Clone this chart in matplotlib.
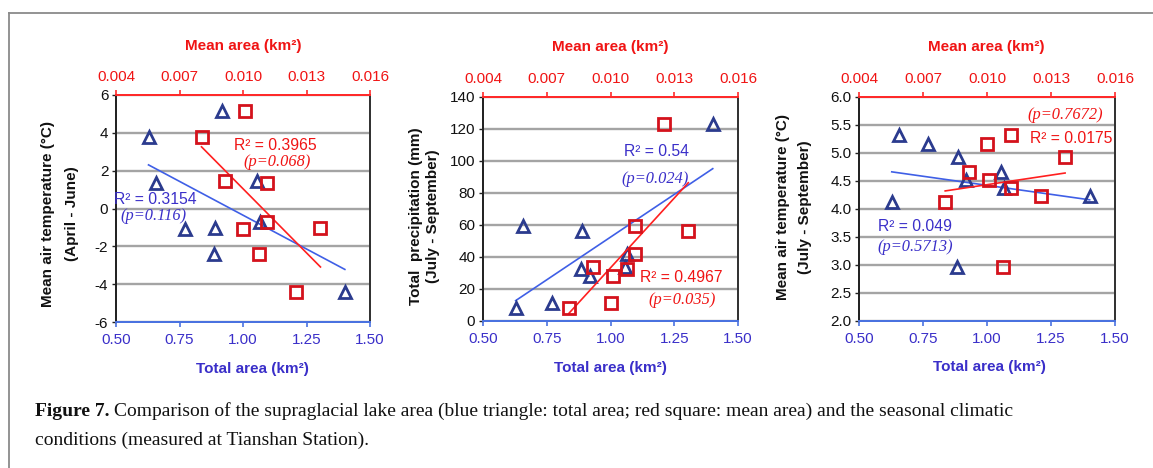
import numpy as np
import matplotlib
matplotlib.use("Agg")
import matplotlib.pyplot as plt
from matplotlib.lines import Line2D

# ---------------- data (9 years) ----------------
total_area = [0.628, 0.658, 0.771, 0.884, 0.888, 0.919, 1.056, 1.066, 1.401]          # km2
mean_area = [0.00804, 0.01114, 0.01001, 0.01077, 0.01366, 0.01010, 0.00917, 0.01113, 0.01251]  # km2
temp_apr_jun = [3.77, 1.37, -1.11, -2.43, -1.04, 5.16, 1.46, -0.72, -4.43]
precip_jul_sep = [7.9, 59.1, 11.1, 32.5, 56.3, 28.3, 33.5, 41.9, 123.4]
temp_jul_sep = [4.12, 5.33, 5.16, 2.96, 4.93, 4.52, 4.66, 4.37, 4.23]

bottom_ticks = [0.50, 0.75, 1.00, 1.25, 1.50]
top_ticks = [0.004, 0.007, 0.010, 0.013, 0.016]

panels = [
    dict(y=temp_apr_jun, ylim=(-6, 6), yticks=[-6, -4, -2, 0, 2, 4, 6], yfmt="{:.0f}",
         ylabel=["Mean air temperature (°C)", "(April - June)"],
         blue_r2="R² = 0.3154", blue_p="(p=0.116)", red_r2="R² = 0.3965", red_p="(p=0.068)"),
    dict(y=precip_jul_sep, ylim=(0, 140), yticks=[0, 20, 40, 60, 80, 100, 120, 140], yfmt="{:.0f}",
         ylabel=["Total  precipitation (mm)", "(July - September)"],
         blue_r2="R² = 0.54", blue_p="(p=0.024)", red_r2="R² = 0.4967", red_p="(p=0.035)"),
    dict(y=temp_jul_sep, ylim=(2.0, 6.0), yticks=[2.0, 2.5, 3.0, 3.5, 4.0, 4.5, 5.0, 5.5, 6.0], yfmt="{:.1f}",
         ylabel=["Mean air temperature (°C)", "(July - September)"],
         blue_r2="R² = 0.049", blue_p="(p=0.5713)", red_r2="R² = 0.0175", red_p="(p=0.7672)"),
]

# ---------------- layout (pixel based) ----------------
W, H = 1153, 468
fig = plt.figure(figsize=(W / 100, H / 100), dpi=100)
plt.rcParams['font.family'] = ['Liberation Sans', 'DejaVu Sans']

def fx(px):
    return px / W

def fy(py):
    return 1 - py / H

axes_px = [(116, 95, 370, 322), (483, 97, 738, 321), (859, 97, 1115, 321)]
ylab_px = [((48, 72), 214), ((416, 433), 216), ((783, 805), 207)]
toplab_px = [(243, 46), (610, 47), (986, 47)]
botlab_px = [(252, 369), (610, 368), (989, 367)]
# annotation positions in (total-area, y) data coords: blue r2, blue p, red r2, red p
ann_pos = [
    [(0.654, 0.48), (0.648, -0.41), (1.126, 3.32), (1.135, 2.44)],
    [(1.181, 106.1), (1.175, 89.0), (1.277, 27.3), (1.280, 13.1)],
    [(0.719, 3.694), (0.719, 3.325), (1.327, 5.257), (1.306, 5.685)],
]

tri_color = '#2b3b8e'
sq_color = '#d4121c'
blue_line = '#3f5fe6'
red_line = '#ff1f1f'
blue_text = '#3a2fc9'
red_text = '#f01414'
grid_color = '#a4a4a4'

for i, p in enumerate(panels):
    l, t, r, b = axes_px[i]
    ax = fig.add_axes([fx(l), fy(b), (r - l) / W, (b - t) / H])
    ax2 = ax.twiny()

    ax.set_xlim(0.5, 1.5)
    ax.set_ylim(*p['ylim'])
    ax2.set_xlim(0.004, 0.016)

    ax.set_xticks(bottom_ticks)
    ax.set_xticklabels([f"{v:.2f}" for v in bottom_ticks])
    ax2.set_xticks(top_ticks)
    ax2.set_xticklabels([f"{v:.3f}" for v in top_ticks])
    ax.set_yticks(p['yticks'])
    ax.set_yticklabels([p['yfmt'].format(v) for v in p['yticks']])

    ax.yaxis.grid(True, color=grid_color, lw=1.7, zorder=0)
    ax.set_axisbelow(True)

    # spines
    for a in (ax, ax2):
        a.spines['left'].set_color('#222222')
        a.spines['right'].set_color('#333333')
        a.spines['left'].set_linewidth(1.3)
        a.spines['right'].set_linewidth(1.3)
        a.spines['top'].set_color('#ff2a2a')
        a.spines['bottom'].set_color('#4a72e0')
        a.spines['top'].set_linewidth(1.4)
        a.spines['bottom'].set_linewidth(1.4)
    ax.tick_params(axis='x', colors='#4a72e0', labelcolor=blue_text, labelsize=11,
                   length=3.5, width=1.2, pad=4.5, direction='out')
    ax2.tick_params(axis='x', colors='#ff2a2a', labelcolor=red_text, labelsize=11,
                    length=3.5, width=1.2, pad=4.5, direction='out')
    ax.tick_params(axis='y', colors='#222222', labelcolor='#111111', labelsize=11,
                   length=3, width=1.0, pad=2.5)

    y = np.array(p['y'])
    xt = np.array(total_area)
    xm = np.array(mean_area)

    # regression lines
    kb = np.polyfit(xt, y, 1)
    xs = np.array([xt.min(), xt.max()])
    ax.plot(xs, np.polyval(kb, xs), color=blue_line, lw=1.2, zorder=2)
    kr = np.polyfit(xm, y, 1)
    xs2 = np.array([xm.min(), xm.max()])
    ax2.plot(xs2, np.polyval(kr, xs2), color=red_line, lw=1.2, zorder=2)

    ax.plot(xt, y, linestyle='none', marker='^', ms=9.3, mfc='none', mec=tri_color, mew=2.0, zorder=3)
    ax2.plot(xm, y, linestyle='none', marker='s', ms=8.8, mfc='none', mec=sq_color, mew=2.0, zorder=3)

    # annotations
    (bx1, by1), (bx2, by2), (rx1, ry1), (rx2, ry2) = ann_pos[i]
    ax2.text(np.interp(bx1, [0.5, 1.5], [0.004, 0.016]), by1, p['blue_r2'], color=blue_text,
             fontsize=11.3, ha='center', va='center', zorder=5)
    ax2.text(np.interp(bx2, [0.5, 1.5], [0.004, 0.016]), by2, p['blue_p'], color=blue_text,
             fontsize=11.8, ha='center', va='center', style='italic', family='Liberation Serif', zorder=5)
    ax2.text(np.interp(rx1, [0.5, 1.5], [0.004, 0.016]), ry1, p['red_r2'], color=red_text,
             fontsize=11.3, ha='center', va='center', zorder=5)
    ax2.text(np.interp(rx2, [0.5, 1.5], [0.004, 0.016]), ry2, p['red_p'], color=red_text,
             fontsize=11.8, ha='center', va='center', style='italic', family='Liberation Serif', zorder=5)

    # axis labels
    (lx1, lx2), ly = ylab_px[i]
    fig.text(fx(lx1), fy(ly), p['ylabel'][0], rotation=90, ha='center', va='center',
             fontsize=11, fontweight='bold', color='#111111')
    fig.text(fx(lx2), fy(ly), p['ylabel'][1], rotation=90, ha='center', va='center',
             fontsize=11, fontweight='bold', color='#111111')
    tx, ty = toplab_px[i]
    fig.text(fx(tx), fy(ty), "Mean area (km²)", ha='center', va='center', fontsize=11,
             fontweight='bold', color=red_text)
    bx, by = botlab_px[i]
    fig.text(fx(bx), fy(by), "Total area (km²)", ha='center', va='center', fontsize=11,
             fontweight='bold', color=blue_text)

# frame lines around figure
fig.add_artist(Line2D([fx(8.5), 1.0], [fy(12.5), fy(12.5)], color='#8a8a8a', lw=1.3))
fig.add_artist(Line2D([fx(8.5), fx(8.5)], [fy(12.5), 0.0], color='#8a8a8a', lw=1.3))

# caption
cap_size = 14.0
renderer = fig.canvas.get_renderer()
t1 = fig.text(fx(35), fy(411), "Figure 7.", ha='left', va='center', fontsize=cap_size,
              fontweight='bold', family='Liberation Serif', color='#111111')
bb = t1.get_window_extent(renderer=renderer)
fig.text(bb.x1 / W + 4 / W, fy(411),
         "Comparison of the supraglacial lake area (blue triangle: total area; red square: mean area) and the seasonal climatic",
         ha='left', va='center', fontsize=cap_size, family='Liberation Serif', color='#111111')
fig.text(fx(35), fy(440), "conditions (measured at Tianshan Station).", ha='left', va='center',
         fontsize=cap_size, family='Liberation Serif', color='#111111')

fig.savefig("out.png", dpi=100)
